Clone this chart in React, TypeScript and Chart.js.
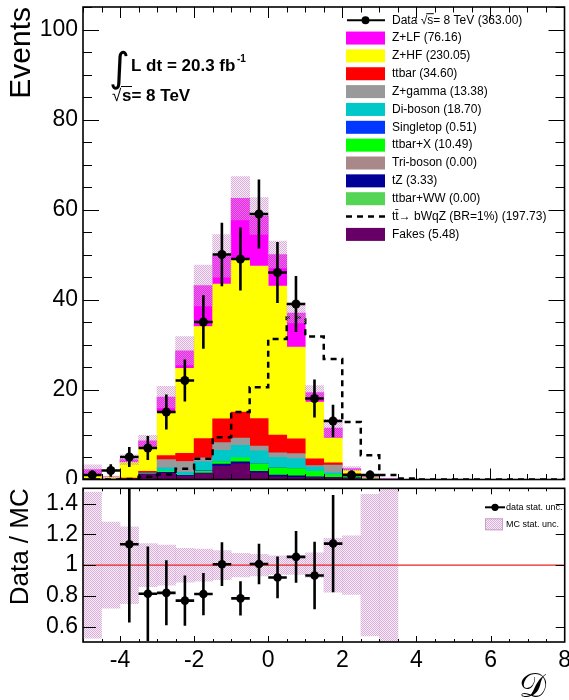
import React, { useEffect, useRef } from "react";
import { Chart, registerables } from "chart.js";

Chart.register(...registerables);

// ---------------- data ----------------
const binCenters = [-4.75, -4.25, -3.75, -3.25, -2.75, -2.25, -1.75, -1.25, -0.75, -0.25, 0.25, 0.75, 1.25, 1.75, 2.25, 2.75, 3.25, 3.75, 4.25, 4.75, 5.25, 5.75, 6.25, 6.75, 7.25, 7.75];
const binHalfWidth = 0.25;

const dataCounts = [1, 2, 5, 7, 15, 22, 35, 50, 49, 59, 46, 39, 18, 13, 1, 1, 0, 0, 0, 0, 0, 0, 0, 0, 0, 0];
const dataErrors = [1.0, 1.41, 2.24, 2.65, 3.87, 4.69, 5.92, 7.07, 7.0, 7.68, 6.78, 6.24, 4.24, 3.61, 1.0, 1.0, 0, 0, 0, 0, 0, 0, 0, 0, 0, 0];

const fakes = [0.1, 0.1, 0.2, 1.1, 1.4, 0.8, 1.3, 3.0, 3.5, 1.5, 0.6, 0.5, 0.4, 0.4, 0.3, 0.1, 0, 0, 0, 0, 0, 0, 0, 0, 0, 0];
const ttbarWW = [0, 0, 0, 0, 0, 0, 0, 0, 0, 0, 0, 0, 0, 0, 0, 0, 0, 0, 0, 0, 0, 0, 0, 0, 0, 0];
const tZ = [0, 0, 0, 0.1, 0.2, 0.1, 0.1, 0.4, 0.4, 0.3, 0.4, 0.3, 0.2, 0.1, 0.05, 0, 0, 0, 0, 0, 0, 0, 0, 0, 0, 0];
const triBoson = [0, 0, 0, 0, 0, 0, 0, 0, 0, 0, 0, 0, 0, 0, 0, 0, 0, 0, 0, 0, 0, 0, 0, 0, 0, 0];
const ttbarX = [0, 0, 0, 0, 0.2, 0.1, 0.4, 0.6, 0.9, 1.7, 1.6, 1.6, 1.2, 0.6, 0.4, 0.1, 0, 0, 0, 0, 0, 0, 0, 0, 0, 0];
const singleTop = [0, 0, 0, 0, 0, 0, 0.2, 0.05, 0, 0.05, 0.05, 0.05, 0, 0, 0, 0, 0, 0, 0, 0, 0, 0, 0, 0, 0, 0];
const diBoson = [0, 0, 0, 0.2, 0.8, 0.6, 1.9, 2.45, 2.8, 2.8, 2.3, 2.2, 1.0, 0.4, 0.1, 0, 0, 0, 0, 0, 0, 0, 0, 0, 0, 0];
const zGamma = [0, 0, 0, 0, 1.8, 2.4, 0.9, 1.7, 1.6, 1.1, 1.0, 1.1, 0.3, 1.7, 0.1, 0, 0, 0, 0, 0, 0, 0, 0, 0, 0, 0];
const ttbar = [0, 0, 0.1, 0.4, 0.9, 1.8, 4.3, 5.3, 5.8, 6.1, 3.9, 3.3, 1.5, 0.5, 0.3, 0, 0, 0, 0, 0, 0, 0, 0, 0, 0, 0];
const zHF = [0.8, 0.4, 3.5, 5.4, 9.7, 18.9, 24.9, 29.9, 33.9, 33.9, 33.15, 20.35, 12.6, 5.5, 0.75, 0.2, 0, 0, 0, 0, 0, 0, 0, 0, 0, 0];
const zLF = [1.3, 0.1, 0.6, 1.4, 3.3, 3.9, 9.1, 6.3, 13.6, 11.1, 7.0, 7.6, 2.1, 2.2, 0.4, 0.2, 0.2, 0, 0, 0, 0, 0, 0, 0, 0, 0];
const signalBWqZ = [0, 0, 0.1, 0.6, 1.1, 2.4, 4.6, 9.4, 15.0, 20.5, 31.2, 36.0, 31.8, 26.8, 12.8, 5.4, 1.0, 0.2, 0, 0, 0, 0, 0, 0, 0, 0];
const mcStatRel = [0.475, 0.28, 0.25, 0.14, 0.13, 0.11, 0.105, 0.095, 0.077, 0.07, 0.06, 0.06, 0.08, 0.175, 0.19, 0.46, 0.6, 0, 0, 0, 0, 0, 0, 0, 0, 0];

const xTickValues = [-4, -2, 0, 2, 4, 6, 8];
const mainYTickValues = [0, 20, 40, 60, 80, 100];
const ratioYTickValues = [0.6, 0.8, 1, 1.2, 1.4];

const legendLabels = [
  "Data \u221As= 8 TeV (363.00)",
  "Z+LF (76.16)",
  "Z+HF (230.05)",
  "ttbar (34.60)",
  "Z+gamma (13.38)",
  "Di-boson (18.70)",
  "Singletop (0.51)",
  "ttbar+X (10.49)",
  "Tri-boson (0.00)",
  "tZ (3.33)",
  "ttbar+WW (0.00)",
  "tt\u0304\u2192 bWqZ (BR=1%) (197.73)",
  "Fakes (5.48)",
];
const ratioLegendLabels = ["data stat. unc.", "MC stat. unc."];

// ---------------- styles ----------------
const FONT = "'Liberation Sans', Arial, Helvetica, sans-serif";
const COLORS: Record<string, string> = {
  fakes: "#660066",
  ttbarWW: "#55d555",
  tZ: "#000099",
  triBoson: "#a88888",
  ttbarX: "#00ff00",
  singleTop: "#0038ff",
  diBoson: "#00c8c8",
  zGamma: "#999999",
  ttbar: "#ff0000",
  zHF: "#ffff00",
  zLF: "#ff00ff",
};

// stack from bottom to top
const stackSeries = [
  { key: "fakes", values: fakes },
  { key: "ttbarWW", values: ttbarWW },
  { key: "tZ", values: tZ },
  { key: "triBoson", values: triBoson },
  { key: "ttbarX", values: ttbarX },
  { key: "singleTop", values: singleTop },
  { key: "diBoson", values: diBoson },
  { key: "zGamma", values: zGamma },
  { key: "ttbar", values: ttbar },
  { key: "zHF", values: zHF },
  { key: "zLF", values: zLF },
];

// legend rows (top to bottom)
const legendRows = [
  { kind: "data", color: "#000" },
  { kind: "box", color: COLORS.zLF },
  { kind: "box", color: COLORS.zHF },
  { kind: "box", color: COLORS.ttbar },
  { kind: "box", color: COLORS.zGamma },
  { kind: "box", color: COLORS.diBoson },
  { kind: "box", color: COLORS.singleTop },
  { kind: "box", color: COLORS.ttbarX },
  { kind: "box", color: COLORS.triBoson },
  { kind: "box", color: COLORS.tZ },
  { kind: "box", color: COLORS.ttbarWW },
  { kind: "dash", color: "#000" },
  { kind: "box", color: COLORS.fakes },
];

function makePattern(): any {
  const c = document.createElement("canvas");
  c.width = 2;
  c.height = 2;
  const g = c.getContext("2d");
  if (!g) return "rgba(210,170,210,0.5)";
  g.fillStyle = "rgba(205,150,205,0.75)";
  g.fillRect(0, 0, 1, 1);
  g.fillRect(1, 1, 1, 1);
  g.fillStyle = "rgba(215,170,215,0.22)";
  g.fillRect(1, 0, 1, 1);
  g.fillRect(0, 1, 1, 1);
  return g.createPattern(c, "repeat") || "rgba(210,170,210,0.5)";
}

type TickSide = { major: number[]; minor: number[]; majLen: number; minLen: number };

function rangeMinor(lo: number, hi: number, step: number, majors: number[]) {
  const out: number[] = [];
  for (let v = lo; v <= hi + 1e-9; v += step) {
    const r = Math.round(v * 1000) / 1000;
    if (!majors.some((m) => Math.abs(m - r) < 1e-6)) out.push(r);
  }
  return out;
}

function drawFrame(chart: any, yId: string, sides: { bottom: TickSide; top: TickSide; left: TickSide; right: TickSide }) {
  const { ctx, chartArea: a, scales } = chart;
  const xs = scales.x;
  const ys = scales[yId];
  ctx.save();
  ctx.strokeStyle = "#000";
  ctx.lineWidth = 1;
  ctx.beginPath();
  const vt = (side: TickSide, y0: number, dir: number) => {
    side.major.forEach((v) => {
      const p = Math.round(xs.getPixelForValue(v)) + 0.5;
      if (p < a.left || p > a.right) return;
      ctx.moveTo(p, y0);
      ctx.lineTo(p, y0 + dir * side.majLen);
    });
    side.minor.forEach((v) => {
      const p = Math.round(xs.getPixelForValue(v)) + 0.5;
      if (p < a.left || p > a.right) return;
      ctx.moveTo(p, y0);
      ctx.lineTo(p, y0 + dir * side.minLen);
    });
  };
  const ht = (side: TickSide, x0: number, dir: number) => {
    side.major.forEach((v) => {
      const p = Math.round(ys.getPixelForValue(v)) + 0.5;
      if (p < a.top || p > a.bottom) return;
      ctx.moveTo(x0, p);
      ctx.lineTo(x0 + dir * side.majLen, p);
    });
    side.minor.forEach((v) => {
      const p = Math.round(ys.getPixelForValue(v)) + 0.5;
      if (p < a.top || p > a.bottom) return;
      ctx.moveTo(x0, p);
      ctx.lineTo(x0 + dir * side.minLen, p);
    });
  };
  vt(sides.bottom, a.bottom, -1);
  vt(sides.top, a.top, 1);
  ht(sides.left, a.left, 1);
  ht(sides.right, a.right, -1);
  ctx.stroke();
  ctx.lineWidth = 1.6;
  ctx.strokeRect(a.left, a.top, a.right - a.left, a.bottom - a.top);
  ctx.restore();
}

function segmentsVertical(xs: number[], lo: number[], hi: number[]) {
  const out: any[] = [];
  xs.forEach((x, i) => {
    out.push({ x, y: lo[i] }, { x, y: hi[i] }, { x, y: null });
  });
  return out;
}
function segmentsHorizontal(xs: number[], ys: number[]) {
  const out: any[] = [];
  xs.forEach((x, i) => {
    out.push({ x: x - binHalfWidth, y: ys[i] }, { x: x + binHalfWidth, y: ys[i] }, { x, y: null });
  });
  return out;
}

export default function App() {
  const mainRef = useRef<HTMLCanvasElement>(null);
  const ratioRef = useRef<HTMLCanvasElement>(null);

  useEffect(() => {
    const pattern = makePattern();
    const mcTotal = binCenters.map((_, i) => stackSeries.reduce((s, d) => s + d.values[i], 0));

    const dIdx = binCenters.map((_, i) => i).filter((i) => dataCounts[i] > 0);
    const dX = dIdx.map((i) => binCenters[i]);
    const dY = dIdx.map((i) => dataCounts[i]);
    const dLo = dIdx.map((i) => dataCounts[i] - dataErrors[i]);
    const dHi = dIdx.map((i) => dataCounts[i] + dataErrors[i]);

    const histLine = (vals: number[]) => {
      const out: any[] = [];
      binCenters.forEach((c, i) => {
        out.push({ x: c - binHalfWidth, y: vals[i] }, { x: c + binHalfWidth, y: vals[i] });
      });
      return out;
    };

    const mIdx = binCenters.map((_, i) => i).filter((i) => mcTotal[i] > 0 && mcStatRel[i] > 0);

    const stackDatasets = stackSeries.map((s) => ({
      type: "bar",
      label: s.key,
      data: binCenters.map((x, i) => ({ x, y: s.values[i] > 0 ? s.values[i] : null })),
      backgroundColor: COLORS[s.key],
      borderWidth: 0,
      yAxisID: "y",
      order: 10,
      barPercentage: 1,
      categoryPercentage: 1,
      grouped: false,
    }));

    const xMinor = rangeMinor(-5, 8, 0.5, xTickValues);
    const mainYMinor = rangeMinor(0, 105, 5, mainYTickValues);

    const mainFrame = {
      id: "mainFrame",
      afterDatasetsDraw(chart: any) {
        drawFrame(chart, "y", {
          bottom: { major: xTickValues, minor: xMinor, majLen: 11, minLen: 5.5 },
          top: { major: xTickValues, minor: xMinor, majLen: 11, minLen: 5.5 },
          left: { major: mainYTickValues, minor: mainYMinor, majLen: 16, minLen: 9 },
          right: { major: mainYTickValues, minor: mainYMinor, majLen: 16, minLen: 9 },
        });
      },
      afterDraw(chart: any) {
        const ctx = chart.ctx as CanvasRenderingContext2D;
        ctx.save();
        ctx.fillStyle = "#000";
        ctx.textBaseline = "alphabetic";
        ctx.font = `40px 'DejaVu Sans', ${FONT}`;
        ctx.fillText("\u222B", 109, 81);
        ctx.font = `bold 17px ${FONT}`;
        ctx.fillText("L dt = 20.3 fb", 131, 71);
        ctx.font = `bold 10px ${FONT}`;
        ctx.fillText("-1", 237, 62);
        ctx.font = `17px ${FONT}`;
        ctx.fillText("\u221A", 112, 101);
        ctx.font = `bold 17px ${FONT}`;
        ctx.fillText("s= 8 TeV", 122, 101);
        ctx.strokeStyle = "#000";
        ctx.lineWidth = 1;
        ctx.beginPath();
        ctx.moveTo(121, 86.5);
        ctx.lineTo(132, 86.5);
        ctx.stroke();

        const bx0 = 346;
        const bx1 = 385;
        const tx = 392;
        const y0 = 20.2;
        const dy = 17.85;
        ctx.font = `12px ${FONT}`;
        ctx.textBaseline = "middle";
        legendRows.forEach((row, i) => {
          const y = y0 + i * dy;
          if (row.kind === "box") {
            ctx.fillStyle = row.color;
            ctx.fillRect(bx0, y - 6.5, bx1 - bx0, 13);
          } else if (row.kind === "data") {
            ctx.strokeStyle = "#000";
            ctx.lineWidth = 2;
            ctx.beginPath();
            ctx.moveTo(bx0 + 1, y);
            ctx.lineTo(bx1, y);
            ctx.stroke();
            ctx.fillStyle = "#000";
            ctx.beginPath();
            ctx.arc((bx0 + bx1) / 2, y, 4, 0, Math.PI * 2);
            ctx.fill();
          } else {
            ctx.strokeStyle = "#000";
            ctx.lineWidth = 2.5;
            ctx.setLineDash([6, 5]);
            ctx.beginPath();
            ctx.moveTo(bx0, y);
            ctx.lineTo(bx1, y);
            ctx.stroke();
            ctx.setLineDash([]);
          }
          ctx.fillStyle = "#000";
          ctx.fillText(legendLabels[i], tx, y);
          if (i === 0) {
            const w1 = ctx.measureText("Data \u221A").width;
            const w2 = ctx.measureText("Data \u221As").width;
            ctx.strokeStyle = "#000";
            ctx.lineWidth = 1;
            ctx.beginPath();
            ctx.moveTo(tx + w1 - 1, y - 6.5);
            ctx.lineTo(tx + w2 + 0.5, y - 6.5);
            ctx.stroke();
          }
        });
        ctx.restore();
      },
    };

    const main = new Chart(mainRef.current as HTMLCanvasElement, {
      type: "bar",
      data: {
        datasets: [
          {
            type: "line",
            data: dX.map((x, i) => ({ x, y: dY[i] })),
            showLine: false,
            pointRadius: 4.5,
            pointBackgroundColor: "#000",
            pointBorderWidth: 0,
            yAxisID: "yl",
            order: 0,
          },
          {
            type: "line",
            data: segmentsVertical(dX, dLo, dHi),
            borderColor: "#000",
            borderWidth: 2.6,
            pointRadius: 0,
            spanGaps: false,
            yAxisID: "yl",
            order: 1,
          },
          {
            type: "line",
            data: segmentsHorizontal(dX, dY),
            borderColor: "#000",
            borderWidth: 2.6,
            pointRadius: 0,
            spanGaps: false,
            yAxisID: "yl",
            order: 1,
          },
          {
            type: "bar",
            data: mIdx.map((i) => ({
              x: binCenters[i],
              y: [Math.max(0, mcTotal[i] * (1 - mcStatRel[i])), mcTotal[i] * (1 + mcStatRel[i])],
            })),
            backgroundColor: pattern,
            borderWidth: 0,
            yAxisID: "yl",
            order: 2,
            barPercentage: 1,
            categoryPercentage: 1,
            grouped: false,
            clip: 0,
          },
          {
            type: "line",
            data: histLine(signalBWqZ),
            borderColor: "#000",
            borderWidth: 2.5,
            borderDash: [6, 5],
            pointRadius: 0,
            yAxisID: "yl",
            order: 3,
          },
          ...stackDatasets,
        ] as any,
      },
      options: {
        animation: false,
        responsive: false,
        maintainAspectRatio: false,
        events: [],
        layout: { padding: { top: 7, right: 4, bottom: 3, left: 0 } },
        plugins: { legend: { display: false }, tooltip: { enabled: false }, title: { display: false } },
        scales: {
          x: {
            type: "linear",
            min: -5,
            max: 8,
            offset: false,
            stacked: true,
            display: false,
            afterBuildTicks: (s: any) => {
              s.ticks = xTickValues.map((v) => ({ value: v }));
            },
          },
          y: {
            type: "linear",
            min: 0,
            max: 105,
            stacked: true,
            position: "left",
            grid: { display: false, drawTicks: false },
            border: { display: false },
            ticks: { font: { family: FONT, size: 23 }, color: "#000", padding: 5, callback: (v: any) => String(v) },
            title: {
              display: true,
              text: "Events",
              align: "end",
              color: "#000",
              font: { family: FONT, size: 30 },
              padding: { top: 4, bottom: 0 },
            },
            afterBuildTicks: (s: any) => {
              s.ticks = mainYTickValues.map((v) => ({ value: v }));
            },
            afterFit: (s: any) => {
              s.width = 83;
              s.paddingTop = 0;
              s.paddingBottom = 0;
            },
          },
          yl: { type: "linear", min: 0, max: 105, display: false, stacked: false },
        },
      } as any,
      plugins: [mainFrame],
    } as any);

    // ---------------- ratio ----------------
    const rIdx = dIdx.filter((i) => {
      if (mcTotal[i] <= 0) return false;
      const r = dataCounts[i] / mcTotal[i];
      return r >= 0.5 && r <= 1.5;
    });
    const rX = rIdx.map((i) => binCenters[i]);
    const rY = rIdx.map((i) => dataCounts[i] / mcTotal[i]);
    const rLo = rIdx.map((i) => (dataCounts[i] - dataErrors[i]) / mcTotal[i]);
    const rHi = rIdx.map((i) => (dataCounts[i] + dataErrors[i]) / mcTotal[i]);

    const ratioFrame = {
      id: "ratioFrame",
      afterDatasetsDraw(chart: any) {
        drawFrame(chart, "y", {
          bottom: { major: xTickValues, minor: xMinor, majLen: 6, minLen: 3 },
          top: { major: xTickValues, minor: xMinor, majLen: 6, minLen: 3 },
          left: { major: ratioYTickValues, minor: [], majLen: 13, minLen: 6 },
          right: { major: ratioYTickValues, minor: [], majLen: 9, minLen: 5 },
        });
      },
      afterDraw(chart: any) {
        const ctx = chart.ctx as CanvasRenderingContext2D;
        const top = chart.chartArea.top;
        ctx.save();
        const ly1 = top + 19;
        const ly2 = top + 36;
        ctx.strokeStyle = "#000";
        ctx.lineWidth = 2;
        ctx.beginPath();
        ctx.moveTo(485, ly1);
        ctx.lineTo(505, ly1);
        ctx.stroke();
        ctx.fillStyle = "#000";
        ctx.beginPath();
        ctx.arc(495, ly1, 3.6, 0, Math.PI * 2);
        ctx.fill();
        ctx.fillStyle = pattern;
        ctx.fillRect(485, ly2 - 6, 18, 12);
        ctx.strokeStyle = "#c8a0c8";
        ctx.lineWidth = 1;
        ctx.strokeRect(485.5, ly2 - 5.5, 17, 11);
        ctx.fillStyle = "#000";
        ctx.font = `9px ${FONT}`;
        ctx.textBaseline = "middle";
        ctx.fillText(ratioLegendLabels[0], 506, ly1);
        ctx.fillText(ratioLegendLabels[1], 506, ly2);
        ctx.textBaseline = "alphabetic";
        ctx.font = `34px 'DejaVu Serif', 'DejaVu Sans', serif`;
        ctx.fillText("\uD835\uDC9F", 519, 213);
        ctx.restore();
      },
    };

    const ratio = new Chart(ratioRef.current as HTMLCanvasElement, {
      type: "bar",
      data: {
        datasets: [
          {
            type: "line",
            data: rX.map((x, i) => ({ x, y: rY[i] })),
            showLine: false,
            pointRadius: 4.3,
            pointBackgroundColor: "#000",
            pointBorderWidth: 0,
            order: 0,
            clip: 0,
          },
          {
            type: "line",
            data: segmentsVertical(rX, rLo, rHi),
            borderColor: "#000",
            borderWidth: 2.6,
            pointRadius: 0,
            spanGaps: false,
            order: 1,
            clip: 0,
          },
          {
            type: "line",
            data: segmentsHorizontal(rX, rY),
            borderColor: "#000",
            borderWidth: 2.6,
            pointRadius: 0,
            spanGaps: false,
            order: 1,
            clip: 0,
          },
          {
            type: "line",
            data: [
              { x: -5, y: 1 },
              { x: 8, y: 1 },
            ],
            borderColor: "#ee2222",
            borderWidth: 1.2,
            pointRadius: 0,
            order: 2,
          },
          {
            type: "bar",
            data: mIdx.map((i) => ({ x: binCenters[i], y: [1 - mcStatRel[i], 1 + mcStatRel[i]] })),
            backgroundColor: pattern,
            borderWidth: 0,
            order: 3,
            barPercentage: 1,
            categoryPercentage: 1,
            grouped: false,
            clip: 0,
          },
        ] as any,
      },
      options: {
        animation: false,
        responsive: false,
        maintainAspectRatio: false,
        events: [],
        layout: { padding: { top: 1, right: 4, bottom: 0, left: 0 } },
        plugins: { legend: { display: false }, tooltip: { enabled: false }, title: { display: false } },
        scales: {
          x: {
            type: "linear",
            min: -5,
            max: 8,
            offset: false,
            position: "bottom",
            grid: { display: false, drawTicks: false },
            border: { display: false },
            ticks: {
              font: { family: FONT, size: 23 },
              color: "#000",
              padding: 5,
              maxRotation: 0,
              autoSkip: false,
              callback: (v: any) => String(v),
            },
            afterBuildTicks: (s: any) => {
              s.ticks = xTickValues.map((v) => ({ value: v }));
            },
            afterFit: (s: any) => {
              s.height = 58;
              s.paddingLeft = 0;
              s.paddingRight = 0;
            },
          },
          y: {
            type: "linear",
            min: 0.5,
            max: 1.5,
            position: "left",
            grid: { display: false, drawTicks: false },
            border: { display: false },
            ticks: { font: { family: FONT, size: 23 }, color: "#000", padding: 5, callback: (v: any) => String(v) },
            title: {
              display: true,
              text: "Data / MC",
              align: "end",
              color: "#000",
              font: { family: FONT, size: 26 },
              padding: { top: 5, bottom: 0 },
            },
            afterBuildTicks: (s: any) => {
              s.ticks = ratioYTickValues.map((v) => ({ value: v }));
            },
            afterFit: (s: any) => {
              s.width = 83;
              s.paddingTop = 0;
              s.paddingBottom = 0;
            },
          },
        },
      } as any,
      plugins: [ratioFrame],
    } as any);

    return () => {
      main.destroy();
      ratio.destroy();
    };
  }, []);

  return (
    <div style={{ position: "absolute", left: 0, top: 0, width: 569, height: 700, background: "#fff" }}>
      <canvas
        ref={mainRef}
        width={569}
        height={484}
        style={{ position: "absolute", left: 0, top: 0, width: 569, height: 484 }}
      />
      <canvas
        ref={ratioRef}
        width={569}
        height={216}
        style={{ position: "absolute", left: 0, top: 484, width: 569, height: 216 }}
      />
    </div>
  );
}
